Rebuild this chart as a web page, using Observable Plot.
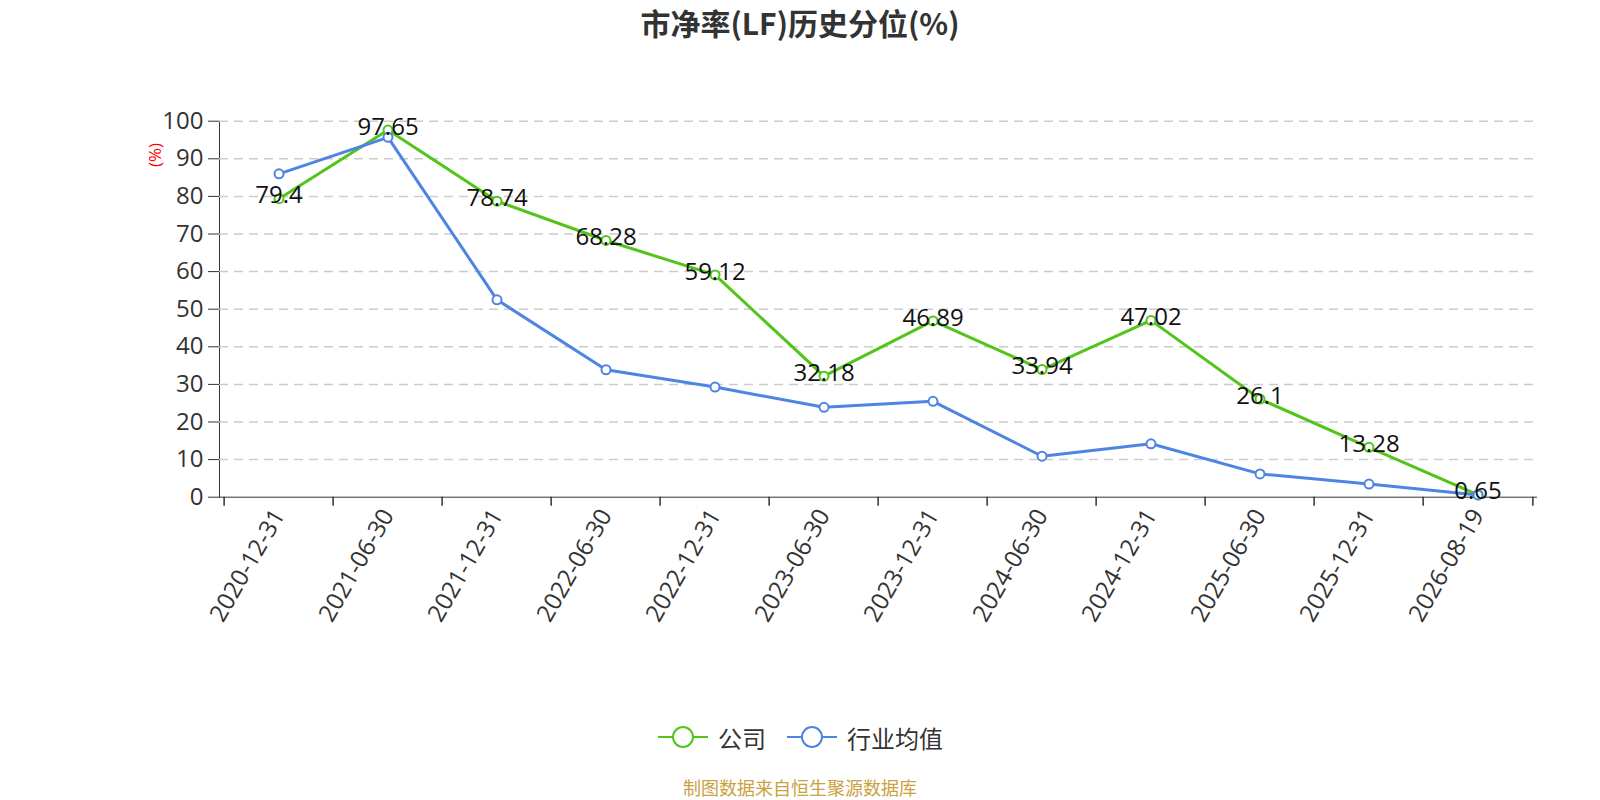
<!DOCTYPE html>
<html>
<head>
<meta charset="utf-8">
<script src="https://cdn.jsdelivr.net/npm/d3@7"></script>
<script src="https://cdn.jsdelivr.net/npm/@observablehq/plot@0.6"></script>
<style>
  html, body { margin: 0; padding: 0; background: #fff; }
  #wrap { position: relative; width: 1600px; height: 800px; overflow: hidden; font-family: "Open Sans", "Noto Sans CJK SC", sans-serif; }
  #chart { position: absolute; left: 0; top: 0; }
  #title { position: absolute; left: 0; width: 1600px; top: 3px; text-align: center; font-size: 30px; font-weight: bold; color: #333; font-family: "Noto Sans CJK SC", "Open Sans", sans-serif; line-height: 38px; }
  #ylab { position: absolute; left: 154px; top: 155px; transform: translate(-50%, -50%) rotate(-90deg); color: #f00; font-size: 17px; white-space: nowrap; }
  #legend { position: absolute; left: 658px; top: 722px; height: 30px; display: flex; align-items: center; font-size: 24px; color: #333; font-family: "Noto Sans CJK SC", sans-serif; }
  #legend .item { display: flex; align-items: center; }
  #legend svg { display: block; }
  #source { position: absolute; left: 0; width: 1600px; top: 778px; text-align: center; font-size: 18px; color: #c9a13f; font-family: "Noto Sans CJK SC", sans-serif; line-height: 18px; }
</style>
</head>
<body>
<div id="wrap">
  <div id="chart"></div>
  <div id="title">市净率(LF)历史分位(%)</div>
  <div id="ylab">(%)</div>
  <div id="legend"></div>
  <div id="source">制图数据来自恒生聚源数据库</div>
</div>
<script>
const dates = ["2020-12-31","2021-06-30","2021-12-31","2022-06-30","2022-12-31","2023-06-30","2023-12-31","2024-06-30","2024-12-31","2025-06-30","2025-12-31","2026-08-19"];
const company = [79.4, 97.65, 78.74, 68.28, 59.12, 32.18, 46.89, 33.94, 47.02, 26.1, 13.28, 0.65];
const industry = [86.0, 95.7, 52.5, 33.9, 29.3, 23.9, 25.5, 10.9, 14.2, 6.2, 3.5, 0.6];
const yTicks = [0, 10, 20, 30, 40, 50, 60, 70, 80, 90, 100];
const seriesNames = ["公司", "行业均值"];
const seriesColors = ["#52c41a", "#4e84e2"];

const W = 1600, H = 800;
const mL = 219, mR = 64, mT = 120.7, mB = 303.3;
const bw = (W - mL - mR) / dates.length;

const compData = dates.map((d, i) => ({date: d, value: company[i]}));
const indData = dates.map((d, i) => ({date: d, value: industry[i]}));

const plot = Plot.plot({
  width: W, height: H,
  marginLeft: mL, marginRight: mR, marginTop: mT, marginBottom: mB,
  style: {fontSize: "24px", fontFamily: "'Open Sans', 'Noto Sans CJK SC', sans-serif", color: "#333", background: "transparent"},
  x: {type: "band", domain: dates, padding: 0, tickSize: 0, tickRotate: -60, tickPadding: 14, label: null, line: true},
  y: {domain: [0, 100], ticks: yTicks, tickSize: 11, tickPadding: 5, label: null, line: true},
  marks: [
    Plot.ruleY(yTicks.filter(t => t > 0), {stroke: "#cccccc", strokeWidth: 1.5, strokeDasharray: "9,6"}),
    Plot.ruleX(dates, {x: d => d, y1: 0, y2: 0, insetBottom: -9, dx: -bw / 2, stroke: "#333", strokeWidth: 1.5}),
    Plot.ruleX([dates[dates.length - 1]], {x: d => d, y1: 0, y2: 0, insetBottom: -9, dx: bw / 2, stroke: "#333", strokeWidth: 1.5}),
    Plot.line(compData, {x: "date", y: "value", stroke: seriesColors[0], strokeWidth: 3}),
    Plot.dot(compData, {x: "date", y: "value", r: 4.5, fill: "#fff", stroke: seriesColors[0], strokeWidth: 2}),
    Plot.line(indData, {x: "date", y: "value", stroke: seriesColors[1], strokeWidth: 3}),
    Plot.dot(indData, {x: "date", y: "value", r: 4.5, fill: "#fff", stroke: seriesColors[1], strokeWidth: 2}),
    Plot.text(compData, {x: "date", y: "value", text: d => String(d.value), fill: "#111", fontSize: 24, dy: -3, lineAnchor: "middle", textAnchor: "middle"})
  ]
});
document.getElementById("chart").appendChild(plot);

// legend
const legend = document.getElementById("legend");
seriesNames.forEach((name, i) => {
  const item = document.createElement("div");
  item.className = "item";
  item.style.marginRight = i === 0 ? "21px" : "0";
  const svg = d3.create("svg").attr("width", 50).attr("height", 30);
  svg.append("line").attr("x1", 0).attr("x2", 50).attr("y1", 15).attr("y2", 15).attr("stroke", seriesColors[i]).attr("stroke-width", 2);
  svg.append("circle").attr("cx", 25).attr("cy", 15).attr("r", 10).attr("fill", "#fff").attr("stroke", seriesColors[i]).attr("stroke-width", 2);
  item.appendChild(svg.node());
  const span = document.createElement("span");
  span.textContent = name;
  span.style.marginLeft = "10px";
  item.appendChild(span);
  legend.appendChild(item);
});
</script>
</body>
</html>
